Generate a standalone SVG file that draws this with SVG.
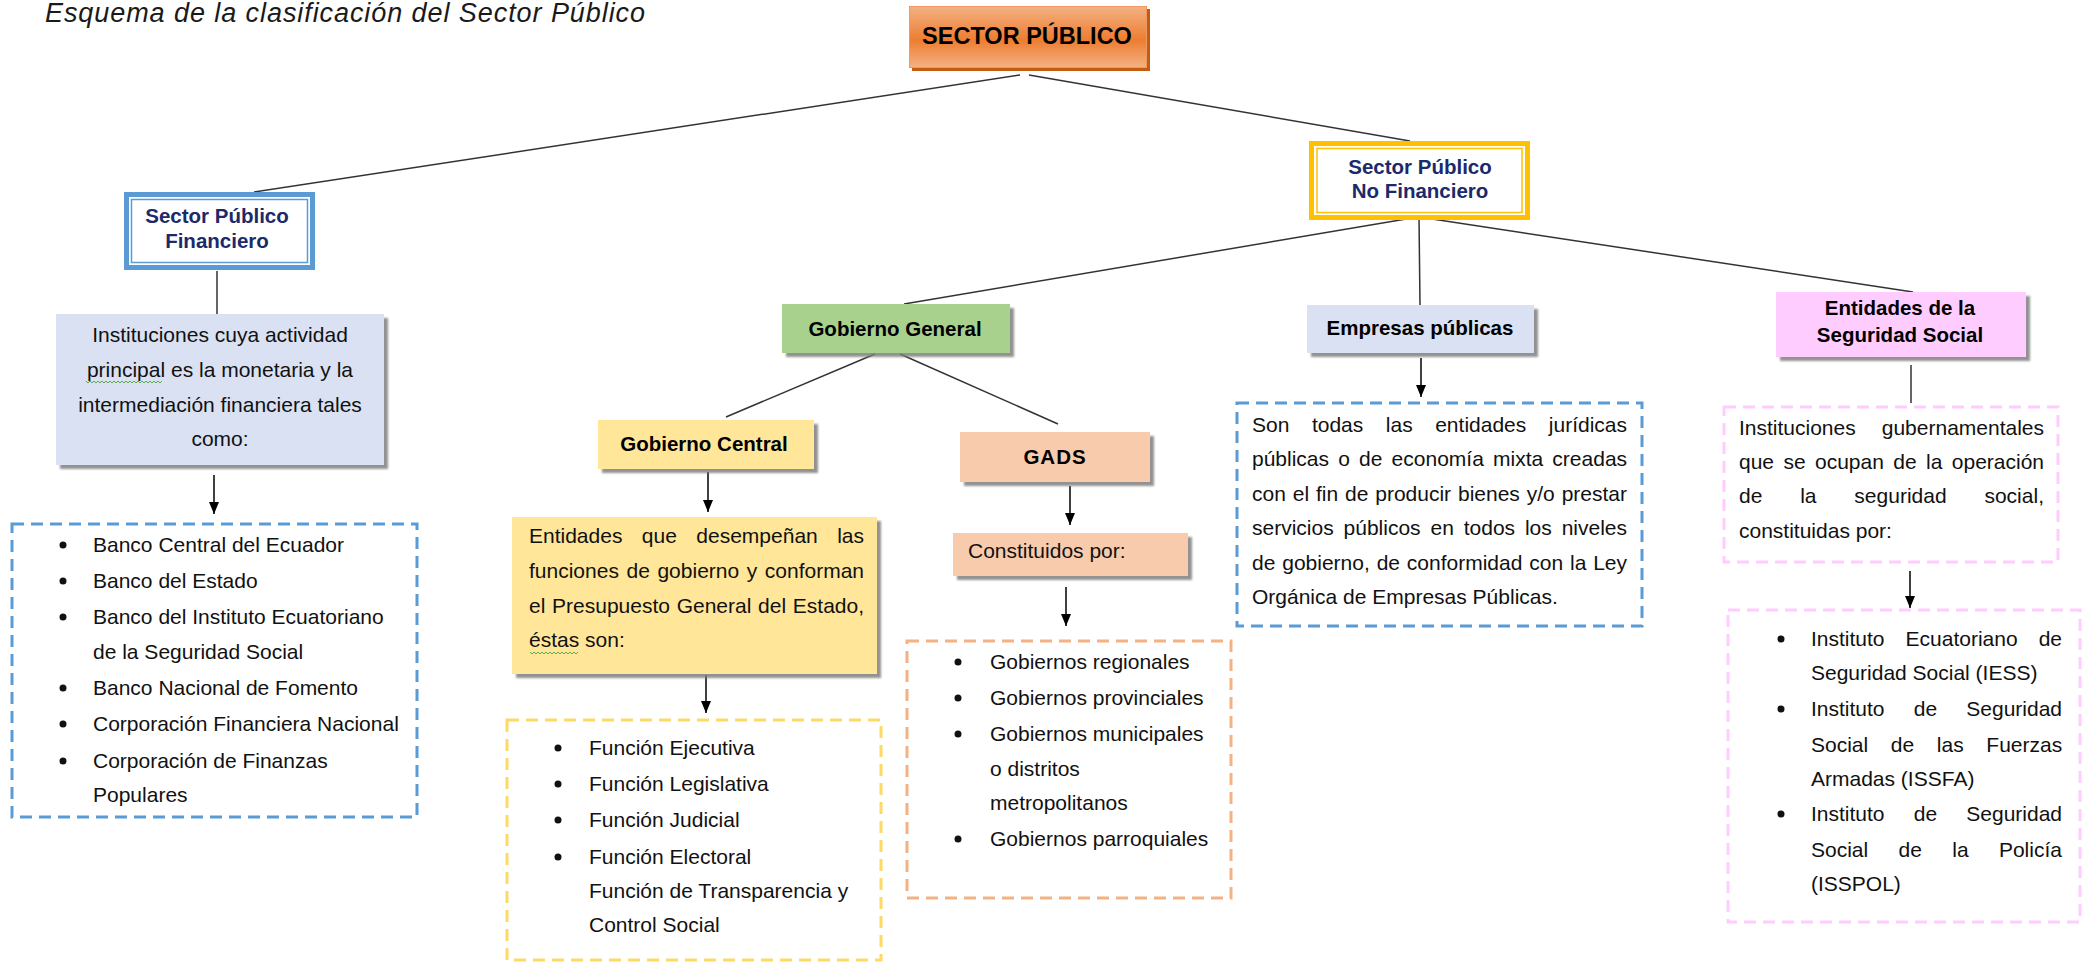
<svg xmlns="http://www.w3.org/2000/svg" width="2091" height="963" viewBox="0 0 2091 963">
<style>
.t{font-family:"Liberation Sans",Arial,sans-serif;font-size:21px;fill:#111}
.b{font-family:"Liberation Sans",Arial,sans-serif;font-size:20.5px;font-weight:bold;fill:#000}
.nv{fill:#1B2A6B}
.ln{stroke:#333;stroke-width:1.5;fill:none}
.ar{stroke:#000;stroke-width:1.5;fill:none;marker-end:url(#ah)}
.dash{fill:none;stroke-width:3;stroke-dasharray:12 7}
.wv{fill:none;stroke:#5DAA4C;stroke-width:1}
</style>
<defs>
<marker id="ah" markerUnits="userSpaceOnUse" markerWidth="12" markerHeight="10" refX="12" refY="5" orient="auto">
<path d="M0,0 L12,5 L0,10 z" fill="#000"/>
</marker>
<linearGradient id="og" x1="0" y1="0" x2="0" y2="1">
<stop offset="0" stop-color="#F4B183"/>
<stop offset="0.55" stop-color="#ED7D31"/>
<stop offset="1" stop-color="#F4B183"/>
</linearGradient>
<filter id="sh" x="-10%" y="-10%" width="130%" height="140%">
<feDropShadow dx="4" dy="4" stdDeviation="1.2" flood-color="#7F7F7F" flood-opacity="0.85"/>
</filter>
</defs>
<rect width="2091" height="963" fill="#fff"/>

<text x="45" y="22" textLength="600" font-family="Liberation Sans, Arial, sans-serif" font-size="27" font-style="italic" fill="#1a1a1a">Esquema de la clasificación del Sector Público</text>

<g id="connectors">
<line class="ln" x1="1020" y1="75" x2="254" y2="192"/>
<line class="ln" x1="1029" y1="75" x2="1410" y2="141"/>
<line class="ln" x1="217" y1="271" x2="217" y2="314"/>
<line class="ln" x1="1418" y1="217" x2="904" y2="304"/>
<line class="ln" x1="1419" y1="217" x2="1420" y2="305"/>
<line class="ln" x1="1419" y1="217" x2="1913" y2="292"/>
<line class="ln" x1="875" y1="354" x2="726" y2="417"/>
<line class="ln" x1="900" y1="354" x2="1058" y2="424"/>
<line class="ln" x1="1911" y1="365" x2="1911" y2="403"/>
<line class="ar" x1="214" y1="475" x2="214" y2="514"/>
<line class="ar" x1="708" y1="472" x2="708" y2="512"/>
<line class="ar" x1="706" y1="675" x2="706" y2="713"/>
<line class="ar" x1="1070" y1="486" x2="1070" y2="525"/>
<line class="ar" x1="1066" y1="587" x2="1066" y2="626"/>
<line class="ar" x1="1421" y1="358" x2="1421" y2="397"/>
<line class="ar" x1="1910" y1="571" x2="1910" y2="608"/>
</g>

<g id="sector-publico">
<rect x="912" y="9" width="238" height="62" fill="#C55A11"/>
<rect x="909.5" y="6.5" width="237" height="61" fill="url(#og)" stroke="#EE9A62" stroke-width="1"/>
<text x="1027" y="44" text-anchor="middle" font-family="Liberation Sans, Arial, sans-serif" font-size="23.5" font-weight="bold" fill="#000">SECTOR PÚBLICO</text>
</g>

<g id="spf">
<rect x="124" y="192" width="191" height="78" fill="#fff"/>
<rect x="126.5" y="194.5" width="186" height="73" fill="none" stroke="#5B9BD5" stroke-width="5"/>
<rect x="131.5" y="199.5" width="176" height="63" fill="none" stroke="#5B9BD5" stroke-width="1.5"/>
<text class="b nv" x="217" y="223" text-anchor="middle">Sector Público</text>
<text class="b nv" x="217" y="248" text-anchor="middle">Financiero</text>
</g>

<g id="spf-desc">
<rect x="56" y="314" width="328" height="151" fill="#D9E1F2" filter="url(#sh)"/>
<text class="t" x="220" y="342" text-anchor="middle">Instituciones cuya actividad</text>
<text class="t" x="220" y="377" text-anchor="middle">principal es la monetaria y la</text>
<text class="t" x="220" y="412" text-anchor="middle">intermediación financiera tales</text>
<text class="t" x="220" y="446" text-anchor="middle">como:</text>
<path class="wv" d="M86,381 l2,2 l2,-2 l2,2 l2,-2 l2,2 l2,-2 l2,2 l2,-2 l2,2 l2,-2 l2,2 l2,-2 l2,2 l2,-2 l2,2 l2,-2 l2,2 l2,-2 l2,2 l2,-2 l2,2 l2,-2 l2,2 l2,-2 l2,2 l2,-2 l2,2 l2,-2 l2,2 l2,-2 l2,2 l2,-2 l2,2 l2,-2 l2,2 l2,-2 l2,2 l2,-2"/>
</g>

<g id="spf-list">
<rect class="dash" x="12" y="524" width="405" height="293" stroke="#5B9BD5"/>
<g fill="#111">
<circle cx="63" cy="545" r="3.5"/><circle cx="63" cy="581" r="3.5"/><circle cx="63" cy="617" r="3.5"/>
<circle cx="63" cy="688" r="3.5"/><circle cx="63" cy="724" r="3.5"/><circle cx="63" cy="761" r="3.5"/>
</g>
<text class="t" x="93" y="552">Banco Central del Ecuador</text>
<text class="t" x="93" y="588">Banco del Estado</text>
<text class="t" x="93" y="624">Banco del Instituto Ecuatoriano</text>
<text class="t" x="93" y="659">de la Seguridad Social</text>
<text class="t" x="93" y="695">Banco Nacional de Fomento</text>
<text class="t" x="93" y="731">Corporación Financiera Nacional</text>
<text class="t" x="93" y="768">Corporación de Finanzas</text>
<text class="t" x="93" y="802">Populares</text>
</g>

<g id="spnf">
<rect x="1309" y="141" width="221" height="79" fill="#fff"/>
<rect x="1311.5" y="143.5" width="216" height="74" fill="none" stroke="#FFC000" stroke-width="5"/>
<rect x="1317" y="148.5" width="205" height="64" fill="none" stroke="#FFC000" stroke-width="1.5"/>
<text class="b nv" x="1420" y="174" text-anchor="middle">Sector Público</text>
<text class="b nv" x="1420" y="198" text-anchor="middle">No Financiero</text>
</g>

<g id="gobierno-general">
<rect x="782" y="304" width="228" height="49" fill="#A9D18E" filter="url(#sh)"/>
<text class="b" x="895" y="336" text-anchor="middle">Gobierno General</text>
</g>

<g id="gobierno-central">
<rect x="598" y="420" width="216" height="49" fill="#FFE699" filter="url(#sh)"/>
<text class="b" x="704" y="451" text-anchor="middle">Gobierno Central</text>
</g>

<g id="gc-desc">
<rect x="512" y="517" width="365" height="157" fill="#FFE699" filter="url(#sh)"/>
<text class="t" x="529" y="543" word-spacing="13.6">Entidades que desempeñan las</text>
<text class="t" x="529" y="578" word-spacing="1.75">funciones de gobierno y conforman</text>
<text class="t" x="529" y="613" word-spacing="0.87">el Presupuesto General del Estado,</text>
<text class="t" x="529" y="647">éstas son:</text>
<path class="wv" d="M530,652 l2,2 l2,-2 l2,2 l2,-2 l2,2 l2,-2 l2,2 l2,-2 l2,2 l2,-2 l2,2 l2,-2 l2,2 l2,-2 l2,2 l2,-2 l2,2 l2,-2 l2,2 l2,-2 l2,2 l2,-2 l2,2 l2,-2"/>
</g>

<g id="gc-list">
<rect class="dash" x="507" y="720" width="374" height="240" stroke="#FFD966"/>
<g fill="#111">
<circle cx="558" cy="748" r="3.5"/><circle cx="558" cy="784" r="3.5"/><circle cx="558" cy="820" r="3.5"/><circle cx="558" cy="857" r="3.5"/>
</g>
<text class="t" x="589" y="755">Función Ejecutiva</text>
<text class="t" x="589" y="791">Función Legislativa</text>
<text class="t" x="589" y="827">Función Judicial</text>
<text class="t" x="589" y="864">Función Electoral</text>
<text class="t" x="589" y="898">Función de Transparencia y</text>
<text class="t" x="589" y="932">Control Social</text>
</g>

<g id="gads">
<rect x="960" y="432" width="190" height="50" fill="#F8CBAD" filter="url(#sh)"/>
<text class="b" x="1055" y="464" text-anchor="middle" letter-spacing="1">GADS</text>
</g>

<g id="gads-desc">
<rect x="953" y="533" width="235" height="43" fill="#F8CBAD" filter="url(#sh)"/>
<text class="t" x="968" y="558">Constituidos por:</text>
</g>

<g id="gads-list">
<rect class="dash" x="907" y="641" width="324" height="257" stroke="#F4B183"/>
<g fill="#111">
<circle cx="958" cy="662" r="3.5"/><circle cx="958" cy="698" r="3.5"/><circle cx="958" cy="734" r="3.5"/><circle cx="958" cy="839" r="3.5"/>
</g>
<text class="t" x="990" y="669">Gobiernos regionales</text>
<text class="t" x="990" y="705">Gobiernos provinciales</text>
<text class="t" x="990" y="741">Gobiernos municipales</text>
<text class="t" x="990" y="776">o distritos</text>
<text class="t" x="990" y="810">metropolitanos</text>
<text class="t" x="990" y="846">Gobiernos parroquiales</text>
</g>

<g id="empresas-publicas">
<rect x="1307" y="305" width="227" height="48" fill="#D9E1F2" filter="url(#sh)"/>
<text class="b" x="1420" y="335" text-anchor="middle">Empresas públicas</text>
</g>

<g id="ep-desc">
<rect class="dash" x="1237" y="403" width="405" height="223" stroke="#5B9BD5"/>
<text class="t" x="1252" y="432" word-spacing="16.7">Son todas las entidades jurídicas</text>
<text class="t" x="1252" y="466" word-spacing="3.34">públicas o de economía mixta creadas</text>
<text class="t" x="1252" y="501" word-spacing="1.04">con el fin de producir bienes y/o prestar</text>
<text class="t" x="1252" y="535" word-spacing="4.04">servicios públicos en todos los niveles</text>
<text class="t" x="1252" y="570" word-spacing="1.02">de gobierno, de conformidad con la Ley</text>
<text class="t" x="1252" y="604">Orgánica de Empresas Públicas.</text>
</g>

<g id="seguridad-social">
<rect x="1776" y="292" width="250" height="65" fill="#FFCCFF" filter="url(#sh)"/>
<text class="b" x="1900" y="315" text-anchor="middle">Entidades de la</text>
<text class="b" x="1900" y="342" text-anchor="middle">Seguridad Social</text>
</g>

<g id="ss-desc">
<rect class="dash" x="1724" y="407" width="334" height="155" stroke="#FFCCFF"/>
<text class="t" x="1739" y="435" word-spacing="20.2">Instituciones gubernamentales</text>
<text class="t" x="1739" y="469" word-spacing="3.56">que se ocupan de la operación</text>
<text class="t" x="1739" y="503" word-spacing="32">de la seguridad social,</text>
<text class="t" x="1739" y="538">constituidas por:</text>
</g>

<g id="ss-list">
<rect class="dash" x="1728" y="610" width="352" height="312" stroke="#FFCCFF"/>
<g fill="#111">
<circle cx="1781" cy="639" r="3.5"/><circle cx="1781" cy="709" r="3.5"/><circle cx="1781" cy="814" r="3.5"/>
</g>
<text class="t" x="1811" y="646" word-spacing="15.2">Instituto Ecuatoriano de</text>
<text class="t" x="1811" y="680">Seguridad Social (IESS)</text>
<text class="t" x="1811" y="716" word-spacing="23.35">Instituto de Seguridad</text>
<text class="t" x="1811" y="752" word-spacing="16.8">Social de las Fuerzas</text>
<text class="t" x="1811" y="786">Armadas (ISSFA)</text>
<text class="t" x="1811" y="821" word-spacing="23.35">Instituto de Seguridad</text>
<text class="t" x="1811" y="857" word-spacing="24.5">Social de la Policía</text>
<text class="t" x="1811" y="891">(ISSPOL)</text>
</g>
</svg>
